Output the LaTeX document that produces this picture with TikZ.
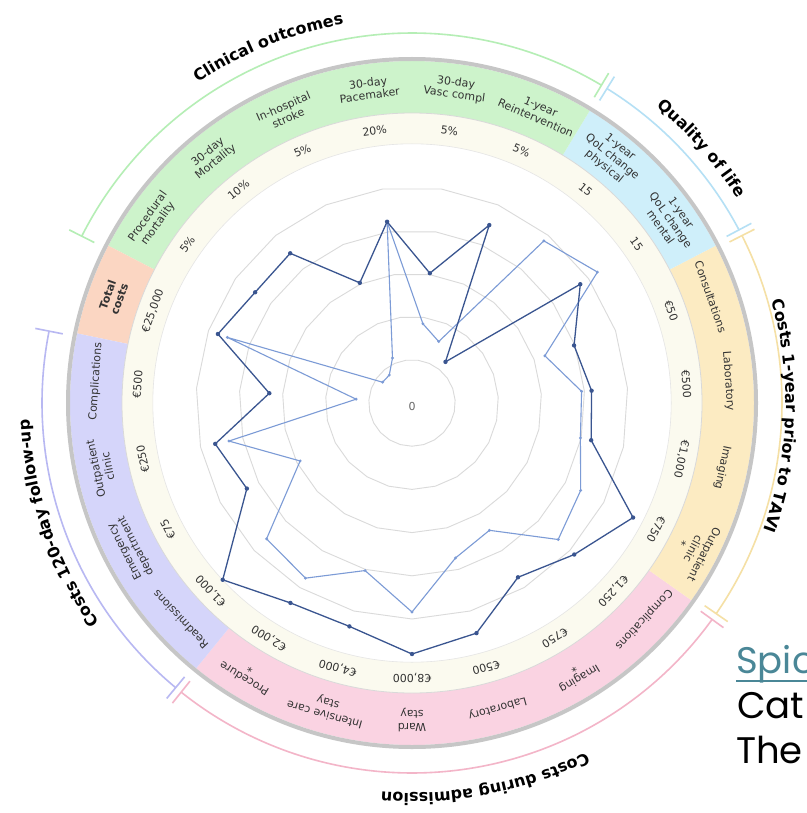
\documentclass[tikz,border=0pt]{standalone}
\usepackage{fontspec}
\setmainfont{DejaVu Sans}
\newfontfamily\popfont{Poppins}
\usetikzlibrary{decorations.text}
\definecolor{cgreen}{HTML}{CDF3CB}
\definecolor{cblue}{HTML}{CFEFFA}
\definecolor{cyellow}{HTML}{FCEBC2}
\definecolor{cpink}{HTML}{FAD3E2}
\definecolor{cpurple}{HTML}{D5D5FA}
\definecolor{corange}{HTML}{FBD6C2}
\definecolor{cbeige}{HTML}{FBFAEF}
\definecolor{agreen}{HTML}{B5EEB5}
\definecolor{ablue}{HTML}{B5E0F5}
\definecolor{ayellow}{HTML}{F5E0A5}
\definecolor{apink}{HTML}{F3B5C8}
\definecolor{apurple}{HTML}{B8B8F2}
\definecolor{darkline}{HTML}{3A5590}
\definecolor{lightline}{HTML}{7C9BD6}
\definecolor{gridgray}{HTML}{DADADA}
\definecolor{linkteal}{HTML}{4A8797}
\newcommand\catfont{\fontsize{16}{19}\selectfont\bfseries}
\begin{document}
\begin{tikzpicture}[x=1pt,y=1pt,
  itemlbl/.style={font=\fontsize{11}{12.5}\selectfont, text=black!80, align=center, inner sep=0pt},
  scalelbl/.style={font=\fontsize{11}{13}\selectfont, text=black!80, inner sep=0pt},
  gridline/.style={draw=gridgray, line width=0.9pt},
  catarc/.style={line width=1.6pt},
  darkser/.style={draw=darkline, line width=1.3pt, line join=round},
  lightser/.style={draw=lightline, line width=1.1pt, line join=round},
  bigtxt/.style={anchor=base west, inner sep=0pt, font=\popfont\fontsize{37}{40}\selectfont}
  ]
\useasboundingbox (0,0) rectangle (806,-813);
\fill[white] (0,0) rectangle (806,-813);
\begin{scope}[shift={(412,-403)}]
  % coloured band
  \foreach \a/\b/\c in {230.87/324.78/cpink, 324.78/387.39/cyellow, 387.39/418.70/cblue,
      418.70/512.61/cgreen, 512.61/528.26/corange, 528.26/590.87/cpurple}
    \fill[\c] (\a:290pt) arc[start angle=\a, end angle=\b, radius=290pt]
      -- (\b:342pt) arc[start angle=\b, end angle=\a, radius=342pt] -- cycle;
  % beige scale ring
  \fill[cbeige, even odd rule] (0,0) circle[radius=290pt] (0,0) circle[radius=259.2pt];
  \draw[gray!30, line width=0.8pt] (0,0) circle[radius=290pt];
  \draw[gray!20, line width=0.6pt] (0,0) circle[radius=259.2pt];
  \draw[gray!45, line width=4pt] (0,0) circle[radius=344pt];
  % grid polygons
  \foreach \i in {1,...,5}
    \draw[gridline] (270:{\i*43.2pt}) \foreach \k in {1,...,22}{ -- ({270+\k*15.65217}:{\i*43.2pt}) } -- cycle;
  % data coordinates
  \foreach \k/\r in {0/251,1/239,2/204,3/222,4/249,5/183,6/180,7/172,8/206,9/53,10/194,11/131,
      12/183,13/131,14/193,15/192,16/206,17/143,18/201,19/186,20/259,21/234,22/232}
    \coordinate (d\k) at ({270+\k*15.65217}:\r pt);
  \foreach \k/\r in {0/209,1/161,2/149,3/200,4/190,5/172,6/170,7/141,8/227,9/209,10/67,11/80,
      12/183,13/49,14/36,15/36,16/196,17/56,18/187,19/126,20/199,21/205,22/174}
    \coordinate (l\k) at ({270+\k*15.65217}:\r pt);
  \draw[lightser] (l0) \foreach \k in {1,...,22}{ -- (l\k) } -- cycle;
  \foreach \k in {0,...,22} \fill[lightline] (l\k) circle[radius=1.6pt];
  \draw[darkser] (d0) \foreach \k in {1,...,22}{ -- (d\k) } -- cycle;
  \foreach \k in {0,...,22} \fill[darkline] (d\k) circle[radius=2.2pt];
  \node[scalelbl, text=black!60] (zero) at (0,-3) {0};
  % item labels
  \foreach \k/\t in {0/{Ward\\stay}, 1/{Laboratory}, 2/{Imaging\\*}, 3/{Complications},
      4/{Outpatient\\clinic\\*}, 5/{Imaging}, 6/{Laboratory}, 7/{Consultations},
      8/{1-year\\QoL change\\mental}, 9/{1-year\\QoL change\\physical},
      10/{1-year\\Reintervention}, 11/{30-day\\Vasc compl}, 12/{30-day\\Pacemaker},
      13/{In-hospital\\stroke}, 14/{30-day\\Mortality}, 15/{Procedural\\mortality},
      16/{\textbf{Total}\\\textbf{costs}}, 17/{Complications}, 18/{Outpatient\\clinic},
      19/{Emergency\\department}, 20/{Readmissions}, 21/{Procedure\\*}, 22/{Intensive care\\stay}}
    \node[itemlbl, rotate={180+\k*15.65217}] (it\k) at ({270+\k*15.65217}:317pt) {\t};
  % scale labels
  \foreach \k/\t in {0/{€8,000}, 1/{€500}, 2/{€750}, 3/{€1,250}, 4/{€750}, 5/{€1,000},
      6/{€500}, 7/{€50}, 8/{15}, 9/{15}, 10/{5\%}, 11/{5\%}, 12/{20\%}, 13/{5\%}, 14/{10\%},
      15/{5\%}, 16/{€25,000}, 17/{€500}, 18/{€250}, 19/{€75}, 20/{€1,000}, 21/{€2,000}, 22/{€4,000}}
    \node[scalelbl, rotate={180+\k*15.65217}] (sc\k) at ({270+\k*15.65217}:275pt) {\t};
  % category arcs with end ticks
  \foreach \a/\b/\c in {231.4/324.2/apink, 325.3/386.9/ayellow, 387.9/418.2/ablue,
      419.2/513.2/agreen, 528.8/590.3/apurple}{
    \draw[catarc, \c] (\a:370pt) arc[start angle=\a, end angle=\b, radius=370pt];
    \draw[catarc, \c] (\a:356pt) -- (\a:384pt);
    \draw[catarc, \c] (\b:356pt) -- (\b:384pt);
  }
  % category titles
  \path[decorate, decoration={text along path, text align=center,
      text={|\catfont|Clinical outcomes}}] (152:385pt) arc[start angle=152, end angle=72, radius=385pt];
  \path[decorate, decoration={text along path, text align=center,
      text={|\catfont|Quality of life}}] (71.3:384pt) arc[start angle=71.3, end angle=11.3, radius=384pt];
  \path[decorate, decoration={text along path, text align=center,
      text={|\catfont|Costs 1-year prior to TAVI}}] (33:374pt) arc[start angle=33, end angle=-37, radius=374pt];
  \path[decorate, decoration={text along path, text align=center,
      text={|\catfont|Costs during admission}}] (316:390pt) arc[start angle=316, end angle=246, radius=390pt];
  \path[decorate, decoration={text along path, text align=center,
      text={|\catfont|Costs 120-day follow-up}}] (233.8:382pt) arc[start angle=233.8, end angle=163.8, radius=382pt];
\end{scope}
% cropped slide text
\node[bigtxt, text=linkteal] (spic) at (736,-673) {Spic};
\draw[linkteal, line width=1.8pt] ([yshift=-8pt]spic.base west) -- ([yshift=-8pt]spic.base east);
\node[bigtxt, text=black] (cat) at (737,-718) {Cat};
\node[bigtxt, text=black] (the) at (736,-763) {The};
\end{tikzpicture}
\end{document}
